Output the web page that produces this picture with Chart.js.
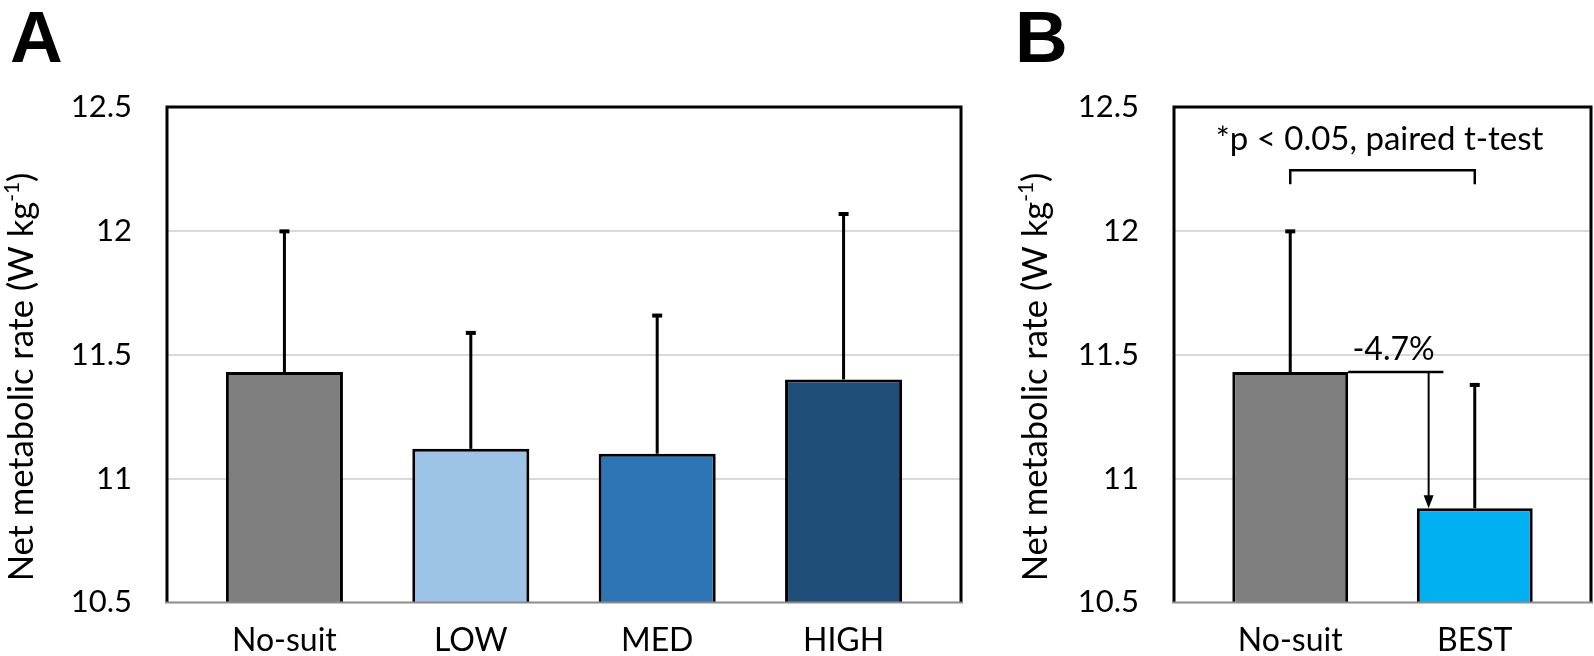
<!DOCTYPE html>
<html>
<head>
<meta charset="utf-8">
<script src="https://cdn.jsdelivr.net/npm/chart.js@4.4.0/dist/chart.umd.min.js"></script>
<style>
  body { margin: 0; background: #fff; width: 1594px; height: 656px; overflow: hidden; position: relative; }
  .panel { position: absolute; top: 0; }
  .letter { position: absolute; top: 0; font: bold 73px "Liberation Sans", Arial, sans-serif; line-height: 1; color: #000; }
</style>
</head>
<body>
<div class="letter" style="left:10px">A</div>
<div class="letter" style="left:1015px">B</div>
<div class="panel" style="left:0"><canvas id="chartA" width="990" height="656"></canvas></div>
<div class="panel" style="left:990px"><canvas id="chartB" width="604" height="656"></canvas></div>
<script>
// panel A
var categoriesA = ['No-suit', 'LOW', 'MED', 'HIGH'];
var meansA = [11.43, 11.12, 11.10, 11.40];
var sdA = [0.57, 0.47, 0.56, 0.67];
var colorsA = ['#7f7f7f', '#9dc3e6', '#2e75b6', '#1f4e79'];

// panel B
var categoriesB = ['No-suit', 'BEST'];
var meansB = [11.43, 10.88];
var sdB = [0.57, 0.50];
var colorsB = ['#7f7f7f', '#00b0f0'];

var yTicks = [10.5, 11, 11.5, 12, 12.5];
var pText = '*p < 0.05, paired t-test';
var changeText = '-4.7%';

var FONT = 'Lato';

// upward-only error bars
var errorBars = {
    id: 'errorBars',
    afterDatasetsDraw: function (chart, args, opts) {
        var ctx = chart.ctx, y = chart.scales.y, x = chart.scales.x;
        ctx.save();
        ctx.strokeStyle = '#000';
        ctx.fillStyle = '#000';
        ctx.lineWidth = 3;
        opts.means.forEach(function (m, i) {
            var px = x.getPixelForValue(i);
            var yb = y.getPixelForValue(m);
            var yt = y.getPixelForValue(m + opts.sd[i]);
            ctx.beginPath();
            ctx.moveTo(px, yb);
            ctx.lineTo(px, yt);
            ctx.stroke();
            ctx.fillRect(px - 5, yt - 1.5, 10, 4);
        });
        ctx.restore();
    }
};

// plot frame
var frame = {
    id: 'frame',
    afterDatasetsDraw: function (chart) {
        var ctx = chart.ctx, a = chart.chartArea;
        ctx.save();
        ctx.strokeStyle = '#000';
        ctx.lineWidth = 3;
        ctx.beginPath();
        ctx.moveTo(a.left, a.bottom);
        ctx.lineTo(a.left, a.top);
        ctx.lineTo(a.right, a.top);
        ctx.lineTo(a.right, a.bottom);
        ctx.stroke();
        ctx.strokeStyle = '#8c8c8c';
        ctx.lineWidth = 2;
        ctx.beginPath();
        ctx.moveTo(a.left - 2, a.bottom);
        ctx.lineTo(a.right + 2, a.bottom);
        ctx.stroke();
        ctx.restore();
    }
};

// y title with superscript
var yTitle = {
    id: 'yTitle',
    afterDraw: function (chart, args, opts) {
        var ctx = chart.ctx;
        var main = 'Net metabolic rate (W kg', sup = '-1', end = ')';
        ctx.save();
        ctx.translate(opts.x, opts.y);
        ctx.rotate(-Math.PI / 2);
        ctx.fillStyle = '#000';
        ctx.textBaseline = 'alphabetic';
        ctx.font = opts.size + 'px ' + FONT;
        var w1 = ctx.measureText(main).width, w3 = ctx.measureText(end).width;
        ctx.font = Math.round(opts.size * 0.6) + 'px ' + FONT;
        var w2 = ctx.measureText(sup).width;
        var px = -(w1 + w2 + w3) / 2;
        ctx.font = opts.size + 'px ' + FONT;
        ctx.fillText(main, px, 0);
        px += w1;
        ctx.font = Math.round(opts.size * 0.6) + 'px ' + FONT;
        ctx.fillText(sup, px, -opts.size * 0.42);
        px += w2;
        ctx.font = opts.size + 'px ' + FONT;
        ctx.fillText(end, px, 0);
        ctx.restore();
    }
};

// significance bracket and change arrow on panel B
var annot = {
    id: 'annot',
    afterDatasetsDraw: function (chart) {
        var ctx = chart.ctx, x = chart.scales.x, y = chart.scales.y;
        var bar0 = chart.getDatasetMeta(0).data[0];
        var y0 = y.getPixelForValue(meansB[0]);
        var y1 = y.getPixelForValue(meansB[1]);
        var xs = bar0.x + bar0.width / 2;
        var xe = x.getPixelForValue(0.83);
        var xa = x.getPixelForValue(0.75);
        ctx.save();
        ctx.strokeStyle = '#000';
        ctx.fillStyle = '#000';
        ctx.lineWidth = 2.5;
        ctx.beginPath();
        ctx.moveTo(xs, y0);
        ctx.lineTo(xe, y0);
        ctx.stroke();
        ctx.lineWidth = 2;
        ctx.beginPath();
        ctx.moveTo(xa, y0);
        ctx.lineTo(xa, y1 - 12);
        ctx.stroke();
        ctx.beginPath();
        ctx.moveTo(xa - 5, y1 - 13);
        ctx.lineTo(xa + 5, y1 - 13);
        ctx.lineTo(xa, y1);
        ctx.closePath();
        ctx.fill();

        ctx.font = '32px ' + FONT;
        ctx.textAlign = 'center';
        ctx.textBaseline = 'middle';
        ctx.fillText(changeText, x.getPixelForValue(0.56), y.getPixelForValue(11.52));

        var b0 = x.getPixelForValue(0), b1 = x.getPixelForValue(1);
        var yb = y.getPixelForValue(12.245);
        ctx.lineWidth = 2.5;
        ctx.beginPath();
        ctx.moveTo(b0, yb + 14);
        ctx.lineTo(b0, yb);
        ctx.lineTo(b1, yb);
        ctx.lineTo(b1, yb + 14);
        ctx.stroke();
        ctx.font = '33px ' + FONT;
        ctx.fillText(pText, (b0 + b1) / 2 - 3, y.getPixelForValue(12.37));
        ctx.restore();
    }
};

function buildChart(id, cats, means, sd, colors, yWidth, padRight, titleX, extra) {
    var ctx = document.getElementById(id).getContext('2d');
    return new Chart(ctx, {
        type: 'bar',
        data: {
            datasets: [{
                data: means.map(function (m, i) { return { x: i, y: m }; }),
                backgroundColor: colors,
                borderColor: '#000',
                borderWidth: 3,
                borderSkipped: false,
                categoryPercentage: 1,
                barPercentage: 0.628
            }]
        },
        options: {
            responsive: false,
            animation: false,
            layout: { padding: { top: 107, right: padRight, left: 0, bottom: 0 } },
            scales: {
                x: {
                    type: 'linear',
                    offset: false,
                    min: -0.63,
                    max: cats.length - 1 + 0.63,
                    afterBuildTicks: function (s) { s.ticks = cats.map(function (c, i) { return { value: i }; }); },
                    afterFit: function (s) { s.height = 53; },
                    grid: { display: false, offset: false },
                    border: { display: false },
                    ticks: {
                        callback: function (v) { return cats[v]; },
                        color: '#000',
                        font: { family: FONT, size: 32 },
                        padding: 11,
                        maxRotation: 0,
                        autoSkip: false
                    }
                },
                y: {
                    min: 10.5,
                    max: 12.5,
                    afterBuildTicks: function (s) { s.ticks = yTicks.map(function (v) { return { value: v }; }); },
                    afterFit: function (s) { s.width = yWidth; },
                    border: { display: false },
                    grid: {
                        drawTicks: false,
                        lineWidth: 2,
                        color: function (c) {
                            var v = c.tick ? c.tick.value : null;
                            return (v === 10.5 || v === 12.5) ? 'rgba(0,0,0,0)' : '#d9d9d9';
                        }
                    },
                    ticks: {
                        callback: function (v) { return String(v); },
                        color: '#000',
                        font: { family: FONT, size: 31 },
                        padding: 35
                    }
                }
            },
            plugins: {
                legend: { display: false },
                tooltip: { enabled: false },
                errorBars: { means: means, sd: sd },
                yTitle: { x: titleX, y: 377, size: 34.5 }
            }
        },
        plugins: [errorBars, frame, yTitle].concat(extra)
    });
}

buildChart('chartA', categoriesA, meansA, sdA, colorsA, 167, 29, 33, []);
buildChart('chartB', categoriesB, meansB, sdB, colorsB, 184, 3, 57, [annot]);
</script>
</body>
</html>
